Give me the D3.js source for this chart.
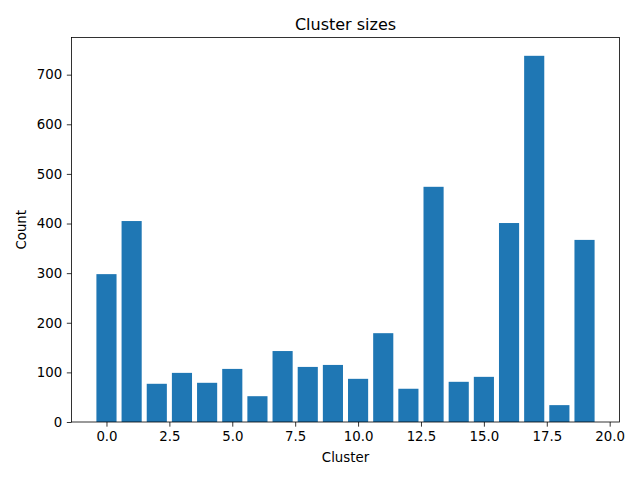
<!DOCTYPE html>
<html>
<head>
<meta charset="utf-8">
<script src="https://cdn.jsdelivr.net/npm/d3@7"></script>
<style>
  body { margin: 0; background: #fff; }
  text { font-family: "DejaVu Sans", sans-serif; }
</style>
</head>
<body>
<svg id="chart" width="640" height="480"></svg>
<script>
// cluster counts
const clusters = d3.range(20);
const counts = [298, 405, 77, 99, 79, 107, 52, 143, 111, 115,
                87, 179, 67, 474, 81, 91, 401, 738, 34, 367];
const xTicks = [0, 2.5, 5, 7.5, 10, 12.5, 15, 17.5, 20];
const yTicks = [0, 100, 200, 300, 400, 500, 600, 700];

const W = 640, H = 480;
const margin = { top: 37.5, right: 20.5, bottom: 58, left: 71.5 };
const barWidth = 0.8;

const svg = d3.select("#chart");

// matplotlib-style 5% margins around the bar extent
const xMin = d3.min(clusters) - barWidth / 2;
const xMax = d3.max(clusters) + barWidth / 2;
const xPad = (xMax - xMin) * 0.05;

const x = d3
  .scaleLinear()
  .domain([xMin - xPad, xMax + xPad])
  .range([margin.left, W - margin.right]);

const y = d3
  .scaleLinear()
  .domain([0, d3.max(counts) * 1.05])
  .range([H - margin.bottom, margin.top]);

svg
  .append("g")
  .selectAll("rect")
  .data(clusters)
  .enter()
  .append("rect")
  .attr("x", (d) => x(d - barWidth / 2))
  .attr("width", (d) => x(d + barWidth / 2) - x(d - barWidth / 2))
  .attr("y", (d, i) => y(counts[i]))
  .attr("height", (d, i) => y(0) - y(counts[i]))
  .attr("fill", "#1f77b4");

const tick = 4.67;

let xAxis = svg
  .append("g")
  .attr("transform", "translate(0," + (H - margin.bottom) + ")")
  .call(
    d3
      .axisBottom(x)
      .tickValues(xTicks)
      .tickFormat(d3.format(".1f"))
      .tickSize(tick)
      .tickPadding(4.67)
      .tickSizeOuter(0)
  );

let yAxis = svg
  .append("g")
  .attr("transform", "translate(" + margin.left + ",0)")
  .call(
    d3
      .axisLeft(y)
      .tickValues(yTicks)
      .tickFormat(d3.format("d"))
      .tickSize(tick)
      .tickPadding(4.67)
      .tickSizeOuter(0)
  );

[xAxis, yAxis].forEach((a) => {
  a.select(".domain").remove();
  a.selectAll("line").attr("stroke", "#000").attr("stroke-width", 0.8);
  a.selectAll("text")
    .attr("fill", "#000")
    .style("font-size", "13.33px")
    .style("font-family", "'DejaVu Sans', sans-serif");
});

// frame
svg
  .append("rect")
  .attr("x", margin.left)
  .attr("y", margin.top)
  .attr("width", W - margin.left - margin.right)
  .attr("height", H - margin.top - margin.bottom)
  .attr("fill", "none")
  .attr("stroke", "#000")
  .attr("stroke-width", 0.8);

svg
  .append("text")
  .attr("x", (margin.left + W - margin.right) / 2)
  .attr("y", margin.top - 8)
  .attr("text-anchor", "middle")
  .style("font-size", "16px")
  .text("Cluster sizes");

svg
  .append("text")
  .attr("x", (margin.left + W - margin.right) / 2)
  .attr("y", 462)
  .attr("text-anchor", "middle")
  .style("font-size", "13.33px")
  .text("Cluster");

svg
  .append("text")
  .attr("transform", "translate(26," + (H - margin.bottom + margin.top) / 2 + ") rotate(-90)")
  .attr("text-anchor", "middle")
  .style("font-size", "13.33px")
  .text("Count");
</script>
</body>
</html>
